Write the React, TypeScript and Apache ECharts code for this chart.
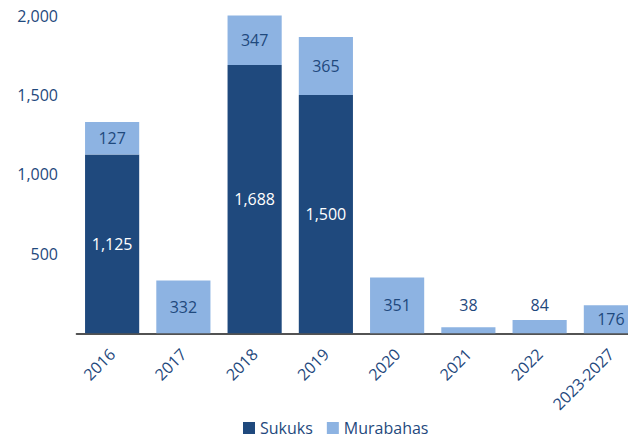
import React, { useEffect, useRef } from "react";
import * as echarts from "echarts";

const categories = ["2016", "2017", "2018", "2019", "2020", "2021", "2022", "2023-2027"];
const sukuks: (number | null)[] = [1125, null, 1688, 1500, null, null, null, null];
const murabahas: number[] = [204, 332, 347, 365, 351, 38, 84, 176];
const murabahaLabels: string[] = ["127", "332", "347", "365", "351", "38", "84", "176"];
const yTicks = [0, 500, 1000, 1500, 2000];

const DARK = "#1F497D";
const LIGHT = "#8DB3E2";
const TEXT = "#1F497D";
const FONT = "Open Sans";

export default function App() {
  const ref = useRef<HTMLDivElement>(null);
  useEffect(() => {
    if (!ref.current) return;
    const chart = echarts.init(ref.current, null, { renderer: "svg" });
    const aboveDistance: Record<number, number> = { 5: 14, 6: 7 };
    const murData = murabahas.map((v, i) => {
      const item: any = { value: v };
      if (aboveDistance[i] !== undefined) {
        item.label = { position: "top", distance: aboveDistance[i] };
      }
      return item;
    });
    chart.setOption({
      animation: false,
      textStyle: { fontFamily: FONT },
      grid: { left: 76.5, top: 15.5, width: 570, height: 317.8, containLabel: false },
      legend: {
        data: ["Sukuks", "Murabahas"],
        icon: "rect",
        itemWidth: 12,
        itemHeight: 12,
        itemGap: 14,
        left: 243,
        top: 419,
        padding: 0,
        textStyle: { color: TEXT, fontSize: 16, lineHeight: 18, fontFamily: FONT },
      },
      xAxis: {
        type: "category",
        data: categories,
        axisTick: { show: false },
        axisLine: { lineStyle: { color: "#1a1a1a", width: 1.6 } },
        axisLabel: {
          rotate: 45,
          margin: 18,
          color: TEXT,
          fontSize: 16,
          fontFamily: FONT,
          interval: 0,
        },
      },
      yAxis: {
        type: "value",
        min: yTicks[0],
        max: yTicks[yTicks.length - 1],
        interval: 500,
        axisLine: { show: false },
        axisTick: { show: false },
        splitLine: { show: false },
        axisLabel: {
          margin: 18.5,
          color: TEXT,
          fontSize: 16,
          fontFamily: FONT,
          formatter: (v: number) => (v === 0 ? "" : v.toLocaleString("en-US")),
        },
      },
      series: [
        {
          name: "Sukuks",
          type: "bar",
          stack: "total",
          barCategoryGap: "24%",
          clip: true,
          data: sukuks,
          itemStyle: { color: DARK },
          label: {
            show: true,
            position: "inside",
            color: "#ffffff",
            fontSize: 16,
            fontFamily: FONT,
            formatter: (p: any) => (p.value == null ? "" : Number(p.value).toLocaleString("en-US")),
          },
        },
        {
          name: "Murabahas",
          type: "bar",
          stack: "total",
          barCategoryGap: "24%",
          clip: true,
          data: murData,
          itemStyle: { color: LIGHT },
          label: {
            show: true,
            position: "inside",
            color: TEXT,
            fontSize: 16,
            fontFamily: FONT,
            formatter: (p: any) => murabahaLabels[p.dataIndex],
          },
        },
      ],
    });
    return () => chart.dispose();
  }, []);
  return (
    <div style={{ position: "absolute", left: 0, top: 0, width: 628, height: 440, overflow: "hidden", background: "#fff" }}>
      <div ref={ref} style={{ width: 660, height: 440 }} />
    </div>
  );
}
